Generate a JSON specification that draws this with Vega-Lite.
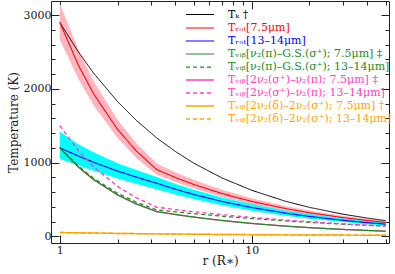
{
  "$schema": "https://vega.github.io/schema/vega-lite/v6.json",
  "width": 338,
  "height": 242,
  "autosize": {"type": "none"},
  "padding": {"left": 51, "top": 1, "right": 6, "bottom": 31},
  "config": {
    "view": {"stroke": "#222", "strokeWidth": 1},
    "font": "DejaVu Serif",
    "axis": {"domainColor": "#222", "tickColor": "#222", "labelColor": "#222", "titleColor": "#222", "labelFont": "DejaVu Serif", "titleFont": "DejaVu Serif", "labelFontSize": 11, "titleFontSize": 12, "titleFontWeight": "normal", "grid": false}
  },
  "datasets": {
    "bands": [
      {"r":1,"b":"rot75","lo":2668,"hi":3161},{"r":1.25,"b":"rot75","lo":2134,"hi":2529},{"r":1.5,"b":"rot75","lo":1778,"hi":2107},{"r":2,"b":"rot75","lo":1334,"hi":1581},{"r":2.5,"b":"rot75","lo":1067,"hi":1264},{"r":3.2,"b":"rot75","lo":834,"hi":988},{"r":4,"b":"rot75","lo":734,"hi":870},{"r":5,"b":"rot75","lo":647,"hi":766},{"r":7,"b":"rot75","lo":535,"hi":633},{"r":10,"b":"rot75","lo":436,"hi":517},{"r":15,"b":"rot75","lo":347,"hi":411},{"r":20,"b":"rot75","lo":294,"hi":349},{"r":30,"b":"rot75","lo":232,"hi":279},{"r":40,"b":"rot75","lo":196,"hi":237},{"r":50,"b":"rot75","lo":171,"hi":210},
      {"r":1,"b":"rot13","lo":1050,"hi":1420},{"r":1.25,"b":"rot13","lo":960,"hi":1250},{"r":1.5,"b":"rot13","lo":890,"hi":1140},{"r":2,"b":"rot13","lo":785,"hi":990},{"r":2.5,"b":"rot13","lo":712,"hi":900},{"r":3.2,"b":"rot13","lo":640,"hi":805},{"r":4,"b":"rot13","lo":569,"hi":713},{"r":5,"b":"rot13","lo":505,"hi":633},{"r":7,"b":"rot13","lo":421,"hi":528},{"r":10,"b":"rot13","lo":348,"hi":437},{"r":15,"b":"rot13","lo":280,"hi":352},{"r":20,"b":"rot13","lo":240,"hi":302},{"r":30,"b":"rot13","lo":193,"hi":243},{"r":40,"b":"rot13","lo":165,"hi":208},{"r":50,"b":"rot13","lo":146,"hi":185}
    ],
    "lines": [
      {"r":1,"s":"TK","T":2900},{"r":1.25,"s":"TK","T":2499},{"r":1.5,"s":"TK","T":2213},{"r":2,"s":"TK","T":1827},{"r":2.5,"s":"TK","T":1574},{"r":3.2,"s":"TK","T":1335},{"r":4,"s":"TK","T":1151},{"r":5,"s":"TK","T":991},{"r":7,"s":"TK","T":792},{"r":10,"s":"TK","T":625},{"r":15,"s":"TK","T":476},{"r":20,"s":"TK","T":393},{"r":30,"s":"TK","T":300},{"r":40,"s":"TK","T":248},{"r":50,"s":"TK","T":213},
      {"r":1,"s":"rot75","T":2900},{"r":1.25,"s":"rot75","T":2320},{"r":1.5,"s":"rot75","T":1933},{"r":2,"s":"rot75","T":1450},{"r":2.5,"s":"rot75","T":1160},{"r":3.2,"s":"rot75","T":906},{"r":4,"s":"rot75","T":798},{"r":5,"s":"rot75","T":703},{"r":7,"s":"rot75","T":581},{"r":10,"s":"rot75","T":474},{"r":15,"s":"rot75","T":377},{"r":20,"s":"rot75","T":320},{"r":30,"s":"rot75","T":254},{"r":40,"s":"rot75","T":216},{"r":50,"s":"rot75","T":190},
      {"r":1,"s":"rot13","T":1200},{"r":1.25,"s":"rot13","T":1088},{"r":1.5,"s":"rot13","T":1004},{"r":2,"s":"rot13","T":885},{"r":2.5,"s":"rot13","T":803},{"r":3.2,"s":"rot13","T":720},{"r":4,"s":"rot13","T":639},{"r":5,"s":"rot13","T":567},{"r":7,"s":"rot13","T":473},{"r":10,"s":"rot13","T":391},{"r":15,"s":"rot13","T":315},{"r":20,"s":"rot13","T":270},{"r":30,"s":"rot13","T":217},{"r":40,"s":"rot13","T":186},{"r":50,"s":"rot13","T":165},
      {"r":1,"s":"vibA75","T":1200},{"r":1.25,"s":"vibA75","T":940},{"r":1.5,"s":"vibA75","T":770},{"r":2,"s":"vibA75","T":562},{"r":2.5,"s":"vibA75","T":440},{"r":3.2,"s":"vibA75","T":336},{"r":4,"s":"vibA75","T":296},{"r":5,"s":"vibA75","T":261},{"r":7,"s":"vibA75","T":215},{"r":10,"s":"vibA75","T":175},{"r":15,"s":"vibA75","T":139},{"r":20,"s":"vibA75","T":118},{"r":30,"s":"vibA75","T":94},{"r":40,"s":"vibA75","T":80},{"r":50,"s":"vibA75","T":70},
      {"r":1,"s":"vibA13","T":1200},{"r":1.25,"s":"vibA13","T":952},{"r":1.5,"s":"vibA13","T":788},{"r":2,"s":"vibA13","T":584},{"r":2.5,"s":"vibA13","T":464},{"r":3.2,"s":"vibA13","T":359},{"r":4,"s":"vibA13","T":332},{"r":5,"s":"vibA13","T":307},{"r":7,"s":"vibA13","T":273},{"r":10,"s":"vibA13","T":241},{"r":15,"s":"vibA13","T":210},{"r":20,"s":"vibA13","T":190},{"r":30,"s":"vibA13","T":165},{"r":40,"s":"vibA13","T":149},{"r":50,"s":"vibA13","T":138},
      {"r":1,"s":"vibB75","T":1200},{"r":1.25,"s":"vibB75","T":940},{"r":1.5,"s":"vibB75","T":770},{"r":2,"s":"vibB75","T":562},{"r":2.5,"s":"vibB75","T":440},{"r":3.2,"s":"vibB75","T":336},{"r":4,"s":"vibB75","T":296},{"r":5,"s":"vibB75","T":261},{"r":7,"s":"vibB75","T":215},{"r":10,"s":"vibB75","T":175},{"r":15,"s":"vibB75","T":139},{"r":20,"s":"vibB75","T":118},{"r":30,"s":"vibB75","T":94},{"r":40,"s":"vibB75","T":80},{"r":50,"s":"vibB75","T":70},
      {"r":1,"s":"vibB13","T":1500},{"r":1.25,"s":"vibB13","T":1161},{"r":1.5,"s":"vibB13","T":942},{"r":2,"s":"vibB13","T":677},{"r":2.5,"s":"vibB13","T":524},{"r":3.2,"s":"vibB13","T":395},{"r":4,"s":"vibB13","T":363},{"r":5,"s":"vibB13","T":334},{"r":7,"s":"vibB13","T":294},{"r":10,"s":"vibB13","T":257},{"r":15,"s":"vibB13","T":221},{"r":20,"s":"vibB13","T":198},{"r":30,"s":"vibB13","T":170},{"r":40,"s":"vibB13","T":152},{"r":50,"s":"vibB13","T":140},
      {"r":1,"s":"vibC75","T":52},{"r":1.25,"s":"vibC75","T":48},{"r":1.5,"s":"vibC75","T":45},{"r":2,"s":"vibC75","T":40},{"r":2.5,"s":"vibC75","T":37},{"r":3.2,"s":"vibC75","T":34},{"r":4,"s":"vibC75","T":31},{"r":5,"s":"vibC75","T":29},{"r":7,"s":"vibC75","T":26},{"r":10,"s":"vibC75","T":23},{"r":15,"s":"vibC75","T":20},{"r":20,"s":"vibC75","T":19},{"r":30,"s":"vibC75","T":17},{"r":40,"s":"vibC75","T":16},{"r":50,"s":"vibC75","T":15},
      {"r":1,"s":"vibC13","T":52},{"r":1.25,"s":"vibC13","T":48},{"r":1.5,"s":"vibC13","T":45},{"r":2,"s":"vibC13","T":40},{"r":2.5,"s":"vibC13","T":37},{"r":3.2,"s":"vibC13","T":34},{"r":4,"s":"vibC13","T":31},{"r":5,"s":"vibC13","T":29},{"r":7,"s":"vibC13","T":26},{"r":10,"s":"vibC13","T":23},{"r":15,"s":"vibC13","T":20},{"r":20,"s":"vibC13","T":19},{"r":30,"s":"vibC13","T":17},{"r":40,"s":"vibC13","T":16},{"r":50,"s":"vibC13","T":15}
    ]
  },
  "layer": [
    {
      "data": {"name": "bands"},
      "transform": [{"filter": "datum.b == 'rot75'"}],
      "mark": {"type": "area", "color": "#ffb6c1", "opacity": 1},
      "encoding": {
        "x": {"field": "r", "type": "quantitative", "scale": {"type": "log", "domain": [0.9, 52], "nice": false}, "axis": null},
        "y": {"field": "lo", "type": "quantitative", "scale": {"domain": [-90, 3190], "nice": false, "zero": false}, "axis": null},
        "y2": {"field": "hi"}
      }
    },
    {
      "data": {"name": "bands"},
      "transform": [{"filter": "datum.b == 'rot13'"}],
      "mark": {"type": "area", "color": "#00ffff", "opacity": 1},
      "encoding": {
        "x": {"field": "r", "type": "quantitative", "axis": null},
        "y": {"field": "lo", "type": "quantitative", "axis": null},
        "y2": {"field": "hi"}
      }
    },
    {
      "data": {"name": "lines"},
      "transform": [{"filter": "datum.s == 'vibB75' || datum.s == 'vibC13'"}],
      "mark": {"type": "line", "clip": true},
      "encoding": {
        "x": {"field": "r", "type": "quantitative", "axis": {"orient": "top", "values": [1,2,3,4,5,6,7,8,9,10,20,30,40,50], "labels": false, "domain": false, "title": null, "tickSize": {"condition": {"test": "datum.value == 1 || datum.value == 10", "value": -8}, "value": -4}}},
        "y": {"field": "T", "type": "quantitative", "axis": {"orient": "right", "values": [0,200,400,600,800,1000,1200,1400,1600,1800,2000,2200,2400,2600,2800,3000], "labels": false, "domain": false, "title": null, "tickSize": {"condition": {"test": "datum.value % 1000 == 0", "value": -8}, "value": -4}}},
        "color": {"field": "s", "type": "nominal"},
        "strokeDash": {"field": "s", "type": "nominal"},
        "strokeWidth": {"field": "s", "type": "nominal"}
      }
    },
    {
      "data": {"name": "lines"},
      "transform": [{"filter": "datum.s != 'vibB75' && datum.s != 'vibC13'"}],
      "mark": {"type": "line", "clip": true},
      "encoding": {
        "x": {"field": "r", "type": "quantitative", "axis": {"orient": "bottom", "values": [1,2,3,4,5,6,7,8,9,10,20,30,40,50], "format": "~g", "labelExpr": "datum.value == 1 || datum.value == 10 ? datum.label : ''", "labelPadding": 9, "domain": false, "title": "r (R∗)", "titlePadding": 0, "tickSize": {"condition": {"test": "datum.value == 1 || datum.value == 10", "value": -8}, "value": -4}}},
        "y": {"field": "T", "type": "quantitative", "axis": {"orient": "left", "values": [0,200,400,600,800,1000,1200,1400,1600,1800,2000,2200,2400,2600,2800,3000], "format": "d", "labelExpr": "datum.value % 1000 == 0 ? datum.label : ''", "labelPadding": 8, "domain": false, "title": "Temperature (K)", "titlePadding": 3, "tickSize": {"condition": {"test": "datum.value % 1000 == 0", "value": -8}, "value": -4}}},
        "color": {
          "field": "s", "type": "nominal",
          "scale": {"domain": ["TK","rot75","rot13","vibA75","vibA13","vibB75","vibB13","vibC75","vibC13"], "range": ["#000000","#ff0000","#0000ff","#228b22","#228b22","#ff40c0","#ff40c0","#ffa500","#ffa500"]},
          "legend": {
            "orient": "none", "legendX": 141, "legendY": 6, "title": null, "padding": 0,
            "symbolType": "M-2,0H2", "symbolSize": 196, "symbolStrokeWidth": 1.5,
            "labelFont": "DejaVu Serif", "labelFontSize": 11, "labelOffset": 20, "labelLimit": 400, "rowPadding": 0,
            "labelExpr": "datum.label == 'TK' ? 'Tₖ †' : datum.label == 'rot75' ? 'Tᵣₒₜ[7.5μm]' : datum.label == 'rot13' ? 'Tᵣₒₜ[13–14μm]' : datum.label == 'vibA75' ? 'Tᵥᵢᵦ[ν₂(π)–G.S.(σ⁺); 7.5μm] ‡' : datum.label == 'vibA13' ? 'Tᵥᵢᵦ[ν₂(π)–G.S.(σ⁺); 13–14μm]' : datum.label == 'vibB75' ? 'Tᵥᵢᵦ[2ν₂(σ⁺)–ν₂(π); 7.5μm] ‡' : datum.label == 'vibB13' ? 'Tᵥᵢᵦ[2ν₂(σ⁺)–ν₂(π); 13–14μm]' : datum.label == 'vibC75' ? 'Tᵥᵢᵦ[2ν₂(δ)–2ν₂(σ⁺); 7.5μm] †' : 'Tᵥᵢᵦ[2ν₂(δ)–2ν₂(σ⁺); 13–14μm]'",
            "encode": {"labels": {"update": {"fill": {"scale": "color", "field": "value"}}}}
          }
        },
        "strokeDash": {
          "field": "s", "type": "nominal",
          "scale": {"domain": ["TK","rot75","rot13","vibA75","vibA13","vibB75","vibB13","vibC75","vibC13"], "range": [[1,0],[1,0],[1,0],[1,0],[4,3],[1,0],[4,3],[1,0],[4,3]]}
        },
        "strokeWidth": {
          "field": "s", "type": "nominal",
          "scale": {"domain": ["TK","rot75","rot13","vibA75","vibA13","vibB75","vibB13","vibC75","vibC13"], "range": [1,1.5,1.5,1.5,1.5,1.5,1.5,1.5,1.5]}
        }
      }
    }
  ],
  "resolve": {"axis": {"x": "independent", "y": "independent"}}
}
